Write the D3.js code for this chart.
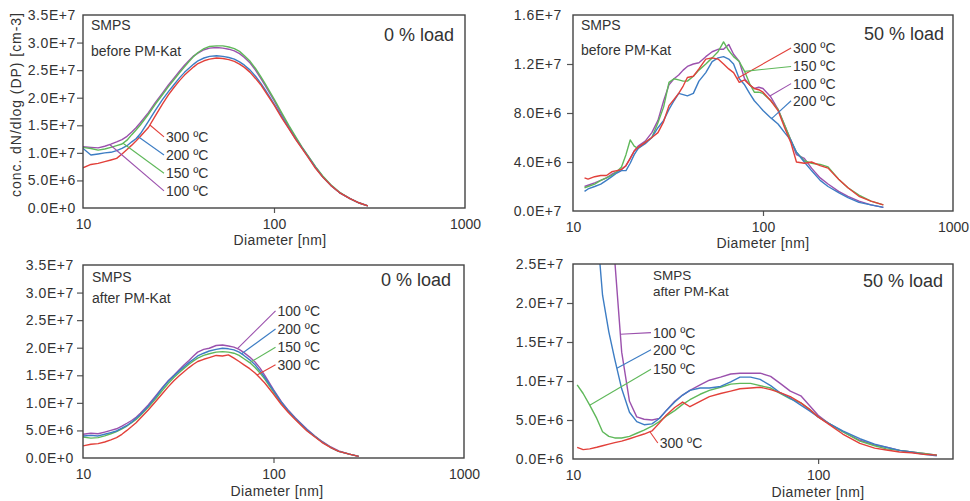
<!DOCTYPE html>
<html><head><meta charset="utf-8">
<script src="https://cdn.jsdelivr.net/npm/d3@7"></script>
<style>
body{margin:0;background:#fff;}
svg{display:block;font-family:"Liberation Sans",Arial,Helvetica,sans-serif;}
</style></head><body>
<svg id="chart" width="970" height="501"></svg>
<script>
// ---------- DATA (concentrations in units of 1E+6 cm-3) ----------
const seriesKeys = ["100", "150", "200", "300"];
const seriesLabels = {"100": "100 ºC", "150": "150 ºC", "200": "200 ºC", "300": "300 ºC"};

// Panel 1: before PM-Kat, 0 % load
const tlD   = [10,11,12,13,14,15,16,17,18,19,20,22,24,26,28,30,32,34,36,38,40,43,46,50,54,58,62,66,70,75,80,85,90,100,110,120,130,140,150,165,180,200,220,250,280,310];
const tl100 = [11.1,11.0,10.9,11.2,11.6,12.0,12.4,13.0,13.8,14.6,15.5,17.3,19.2,20.8,22.3,23.6,24.8,25.9,26.8,27.6,28.1,28.7,29.0,29.1,29.0,28.8,28.5,28.0,27.3,26.3,25.0,23.6,22.2,19.5,16.9,14.7,12.7,11.0,9.5,7.4,5.7,4.0,2.8,1.7,0.9,0.4];
const tl150 = [11.0,10.8,10.5,10.7,11.0,11.3,11.6,12.3,13.3,14.2,15.1,17.0,18.9,20.5,22.0,23.3,24.5,25.6,26.6,27.5,28.2,28.9,29.3,29.4,29.4,29.2,28.9,28.4,27.6,26.6,25.3,23.9,22.5,19.8,17.2,14.9,12.9,11.1,9.6,7.5,5.8,4.1,2.9,1.7,0.9,0.4];
const tl200 = [10.8,9.6,9.8,10.0,10.1,10.4,10.8,11.3,12.0,12.6,13.5,15.7,17.8,19.6,21.1,22.4,23.6,24.6,25.4,26.1,26.7,27.2,27.5,27.6,27.5,27.3,27.0,26.5,25.9,25.0,23.9,22.7,21.4,18.9,16.5,14.4,12.5,10.9,9.4,7.3,5.6,4.0,2.8,1.7,0.9,0.4];
const tl300 = [7.3,7.9,8.1,8.4,8.7,9.0,9.8,10.6,11.4,12.2,13.0,14.6,16.8,18.8,20.5,21.9,23.1,24.1,24.9,25.6,26.2,26.7,27.0,27.2,27.1,26.9,26.6,26.1,25.5,24.6,23.5,22.4,21.1,18.7,16.3,14.3,12.4,10.8,9.3,7.2,5.6,4.0,2.8,1.7,0.9,0.4];

// Panel 2: before PM-Kat, 50 % load
const trD   = [11.5,12,13,14,15,16,17,18,19,20,21,22,24,26,28,30,32,34,36,38,40,43,46,50,54,58,62,66,70,75,80,85,90,95,100,110,120,130,140,150,165,180,200,220,250,280,320,370,430];
const tr100 = [2.0,2.1,2.3,2.5,2.7,3.0,3.2,3.4,3.7,4.3,4.9,5.3,5.7,6.4,7.4,9.0,10.3,10.8,11.1,11.5,11.8,12.0,12.1,12.6,13.0,13.2,13.2,13.6,12.8,12.2,10.8,10.3,10.0,10.1,10.0,9.3,8.3,7.0,5.8,4.6,4.3,3.5,2.7,2.2,1.6,1.2,0.8,0.5,0.3];
const tr150 = [1.9,2.0,2.2,2.5,2.7,2.9,3.2,3.6,4.6,5.8,5.3,5.1,5.6,6.0,7.2,8.5,10.5,10.8,10.7,10.6,10.6,11.0,11.5,12.0,12.5,13.0,13.8,13.1,12.6,12.2,11.4,10.4,9.7,9.7,9.6,9.0,8.3,7.0,5.8,4.8,4.1,3.9,3.8,3.6,2.6,1.9,1.3,0.8,0.5];
const tr200 = [1.6,1.8,2.0,2.2,2.5,2.8,3.1,3.3,3.3,3.9,4.6,5.1,5.5,6.0,6.8,7.4,8.3,9.0,9.6,9.5,9.4,9.6,10.6,11.3,12.2,12.5,12.6,12.4,12.0,10.8,10.3,9.6,9.0,8.6,8.2,7.6,7.1,6.4,5.8,4.8,4.0,3.3,2.5,2.0,1.5,1.1,0.7,0.5,0.3];
const tr300 = [2.7,2.6,2.8,2.9,2.9,3.2,3.3,3.4,3.7,4.3,4.9,5.2,5.6,6.0,6.4,7.3,8.6,9.1,9.6,10.2,10.9,11.0,11.6,12.4,12.5,12.4,12.0,11.6,11.3,10.5,10.7,10.3,10.0,9.9,9.7,9.0,8.2,6.8,5.6,4.0,3.9,4.0,3.7,3.5,2.6,1.9,1.2,0.8,0.5];

// Panel 3: after PM-Kat, 0 % load
const blD   = [10,11,12,13,14,15,16,17,18,19,20,22,24,26,28,30,32,34,36,38,40,43,46,50,54,58,62,66,70,75,80,85,90,100,110,120,130,140,150,165,180,200,220,250,280];
const bl100 = [4.3,4.5,4.4,4.7,5.0,5.3,5.8,6.3,6.8,7.4,8.1,9.6,11.2,12.7,14.0,15.0,16.0,16.9,17.7,18.5,19.2,19.7,19.9,20.4,20.5,20.3,20.1,19.7,19.1,18.3,17.4,16.3,15.0,12.4,10.2,8.6,7.3,6.2,5.2,4.0,3.0,2.0,1.3,0.7,0.3];
const bl150 = [3.8,3.6,3.7,4.0,4.4,4.8,5.3,5.8,6.4,7.0,7.7,9.2,10.7,12.2,13.5,14.6,15.5,16.3,17.0,17.6,18.1,18.6,18.9,19.2,19.3,19.2,19.0,18.6,18.0,17.3,16.4,15.4,14.3,12.0,10.0,8.4,7.1,6.0,5.0,3.9,2.9,1.9,1.2,0.7,0.3];
const bl200 = [4.0,4.1,4.0,4.3,4.6,4.9,5.4,5.9,6.5,7.2,7.9,9.4,11.0,12.6,13.9,14.9,15.8,16.6,17.3,17.9,18.5,19.0,19.4,19.7,19.9,19.8,19.6,19.2,18.6,17.8,16.9,15.8,14.6,12.2,10.1,8.5,7.2,6.1,5.1,3.9,2.9,1.9,1.2,0.7,0.3];
const bl300 = [2.2,2.5,2.6,2.9,3.3,3.7,4.3,5.0,5.7,6.4,7.2,8.7,10.2,11.6,12.9,14.0,14.9,15.7,16.4,17.0,17.5,17.9,18.2,18.6,18.5,18.7,18.1,17.5,16.9,16.2,15.4,14.5,13.6,11.6,9.7,8.2,7.0,5.9,4.9,3.8,2.8,1.9,1.2,0.7,0.3];

// Panel 4: after PM-Kat, 50 % load
const brD   = [10.4,11,11.7,12.5,13.2,14,14.8,15.8,17,18.2,19.5,21,22.5,24,26,28,30,33,36,40,44,48,53,58,64,70,77,85,92,100,110,126,148,170,190,215,240,270,305];
const br100 = [null,null,null,null,null,35,25.5,13.7,7.4,5.4,5.1,5.0,5.2,6.2,7.4,8.2,8.8,9.5,10.1,10.5,10.9,11.0,11.0,11.0,10.6,9.7,8.7,8.1,6.9,5.6,4.6,3.5,2.4,1.8,1.5,1.1,0.9,0.7,0.5];
const br150 = [9.5,8.4,6.9,5.2,3.5,2.9,2.7,2.7,2.9,3.3,3.7,4.2,4.8,5.5,6.2,7.0,7.6,8.3,8.8,9.2,9.6,9.7,9.7,9.4,9.1,8.4,7.7,7.2,6.4,5.4,4.6,3.5,2.3,1.7,1.3,1.1,0.9,0.7,0.5];
const br200 = [null,null,null,30,21,16.3,12.8,9.0,6.0,4.8,4.4,4.5,5.2,6.2,7.3,8.2,8.8,9.1,9.1,9.3,9.9,10.5,10.5,10.2,9.4,8.5,7.8,6.9,6.2,5.4,4.6,3.6,2.6,1.9,1.5,1.1,0.9,0.6,0.4];
const br300 = [1.5,1.2,1.3,1.5,1.7,1.9,2.1,2.3,2.6,2.9,3.2,3.6,4.6,5.6,6.6,7.3,6.7,7.4,8.0,8.4,8.7,9.0,9.1,9.2,8.9,8.5,8.0,7.2,6.4,5.4,4.5,3.2,2.0,1.4,1.15,0.9,0.8,0.6,0.5];

// Axis ticks
const leftYTicks  = [0,5,10,15,20,25,30,35];
const leftYLabels = ["0.0E+0","5.0E+6","1.0E+7","1.5E+7","2.0E+7","2.5E+7","3.0E+7","3.5E+7"];
const trYTicks    = [0,4,8,12,16];
const trYLabels   = ["0.0E+7","4.0E+6","8.0E+6","1.2E+7","1.6E+7"];
const brYTicks    = [0,5,10,15,20,25];
const brYLabels   = ["0.0E+6","5.0E+6","1.0E+7","1.5E+7","2.0E+7","2.5E+7"];
const xTicksFull  = [10,100,1000];
const xLabelsFull = ["10","100","1000"];
const xTicksShort = [10,100];
const xLabelsShort= ["10","100"];

// Labels with leader lines: series, anchor diameter on curve, label diameter / value
const tlAnn = [{s:"300",at:22.4,ld:27.2,lv:12.9},{s:"200",at:19.4,ld:27.2,lv:9.6},{s:"150",at:16.2,ld:27.2,lv:6.3},{s:"100",at:13.8,ld:27.2,lv:3.1}];
const trAnn = [{s:"300",at:73,ld:144,lv:13.3},{s:"150",at:80,ld:144,lv:11.8},{s:"100",at:108.7,ld:144,lv:10.4},{s:"200",at:111,ld:144,lv:9.0}];
const blAnn = [{s:"100",at:64.7,ld:105,lv:26.7},{s:"200",at:68,ld:105,lv:23.4},{s:"150",at:75,ld:105,lv:20.1},{s:"300",at:82,ld:105,lv:16.9}];
const brAnn = [{s:"100",at:15.6,ld:21.2,lv:16.2},{s:"200",at:15.1,ld:21.2,lv:14.0},{s:"150",at:11.7,ld:21.2,lv:11.5},{s:"300",at:20.6,ld:22.6,lv:2.05}];

// ---------- STYLE / LAYOUT ----------
const colors = {"100":"#9b51ad","150":"#5fb85a","200":"#3d7dc4","300":"#e2403a"};
const textColor = "#333";

const panels = [
  {D:tlD, S:{"100":tl100,"150":tl150,"200":tl200,"300":tl300}, ann:tlAnn,
   l:83,r:465,t:15,b:208, xDom:[10,1000], yDom:[0,35], yT:leftYTicks, yL:leftYLabels, xT:xTicksFull, xL:xLabelsFull, pad:1,
   line1:"SMPS", line2:"before PM-Kat", p1:[91,30], p2:[91,56], fs:14, load:"0 % load", pl:[454,41], title:[280,245]},
  {D:trD, S:{"100":tr100,"150":tr150,"200":tr200,"300":tr300}, ann:trAnn,
   l:573,r:953,t:15,b:211, xDom:[10,1000], yDom:[0,16], yT:trYTicks, yL:trYLabels, xT:xTicksFull, xL:xLabelsFull, pad:5,
   line1:"SMPS", line2:"before PM-Kat", p1:[581,30], p2:[581,55], fs:14, load:"50 % load", pl:[944,40], title:[763,248]},
  {D:blD, S:{"100":bl100,"150":bl150,"200":bl200,"300":bl300}, ann:blAnn,
   l:83,r:464,t:265,b:458, xDom:[10,1000], yDom:[0,35], yT:leftYTicks, yL:leftYLabels, xT:xTicksFull, xL:xLabelsFull, pad:3,
   line1:"SMPS", line2:"after PM-Kat", p1:[92,282], p2:[92,303], fs:14, load:"0 % load", pl:[451,286], title:[277,496]},
  {D:brD, S:{"100":br100,"150":br150,"200":br200,"300":br300}, ann:brAnn,
   l:573,r:953,t:264,b:459, xDom:[10,355], yDom:[0,25], yT:brYTicks, yL:brYLabels, xT:xTicksShort, xL:xLabelsShort, pad:3,
   line1:"SMPS", line2:"after PM-Kat", p1:[653,280], p2:[653,296], fs:13.5, load:"50 % load", pl:[943,287], title:[818,497]}
];

const svg = d3.select("#chart");
svg.append("rect").attr("width",970).attr("height",501).attr("fill","#fff");

function interp(D, V, at){
  for(let i=0;i<D.length-1;i++){
    if(D[i] <= at && at <= D[i+1] && V[i]!=null && V[i+1]!=null){
      const f = Math.log(at/D[i]) / Math.log(D[i+1]/D[i]);
      return V[i] + f*(V[i+1]-V[i]);
    }
  }
  return null;
}

panels.forEach((p, pi) => {
  const x = d3.scaleLog().domain(p.xDom).range([p.l, p.r]);
  const y = d3.scaleLinear().domain(p.yDom).range([p.b, p.t]);
  const g = svg.append("g");

  const clipId = "clip" + pi;
  g.append("clipPath").attr("id", clipId).append("rect")
    .attr("x", p.l).attr("y", p.t).attr("width", p.r - p.l).attr("height", p.b - p.t);

  // Y axis
  const yAxis = d3.axisLeft(y).tickValues(p.yT).tickFormat((d,i) => p.yL[i]).tickSize(6).tickSizeOuter(0).tickPadding(p.pad);
  const ya = g.append("g").attr("transform", `translate(${p.l},0)`).call(yAxis);
  ya.select(".domain").remove();
  ya.selectAll(".tick line").attr("stroke", "#555").attr("stroke-width", 1.2)
    .attr("opacity", d => (d === p.yDom[0] || d === p.yDom[1]) ? 0 : 1);
  ya.selectAll(".tick text").attr("fill", textColor).style("font-size", "14px").style("letter-spacing", "0.6px")
    .style("font-family", '"Liberation Sans", Arial, sans-serif');

  // X axis
  const xAxis = d3.axisBottom(x).tickValues(p.xT).tickFormat((d,i) => p.xL[i]).tickSize(5).tickSizeOuter(0).tickPadding(6);
  const xa = g.append("g").attr("transform", `translate(0,${p.b})`).call(xAxis);
  xa.select(".domain").remove();
  xa.selectAll(".tick line").attr("stroke", "#555").attr("stroke-width", 1.2)
    .attr("opacity", d => (d === p.xDom[0] || d === p.xDom[1]) ? 0 : 1);
  xa.selectAll(".tick text").attr("fill", textColor).style("font-size", "14px")
    .style("font-family", '"Liberation Sans", Arial, sans-serif');

  // Curves
  const line = d3.line().defined(d => d.v != null).x(d => x(d.d)).y(d => y(d.v));
  const lines = g.append("g").attr("clip-path", `url(#${clipId})`);
  seriesKeys.forEach(k => {
    const pts = p.D.map((d, i) => ({d: d, v: p.S[k][i]}));
    lines.append("path").datum(pts).attr("d", line)
      .attr("fill", "none").attr("stroke", colors[k]).attr("stroke-width", 1.4)
      .attr("stroke-linejoin", "round");
  });

  // Frame
  g.append("rect").attr("x", p.l).attr("y", p.t).attr("width", p.r - p.l).attr("height", p.b - p.t)
    .attr("fill", "none").attr("stroke", "#444").attr("stroke-width", 1.4);

  // Leader lines and labels
  p.ann.forEach(a => {
    const av = interp(p.D, p.S[a.s], a.at);
    const ax = x(a.at), ay = y(av);
    const lx = x(a.ld), ly = y(a.lv);
    g.append("line").attr("x1", ax).attr("y1", ay).attr("x2", lx - 2).attr("y2", ly)
      .attr("stroke", colors[a.s]).attr("stroke-width", 1.1);
    g.append("text").attr("x", lx).attr("y", ly).attr("dy", "0.36em")
      .attr("fill", textColor).style("font-size", "14px").text(seriesLabels[a.s]);
  });

  // Panel text
  g.append("text").attr("x", p.p1[0]).attr("y", p.p1[1]).attr("fill", textColor).style("font-size", p.fs + "px").text(p.line1);
  g.append("text").attr("x", p.p2[0]).attr("y", p.p2[1]).attr("fill", textColor).style("font-size", p.fs + "px").text(p.line2);
  g.append("text").attr("x", p.pl[0]).attr("y", p.pl[1]).attr("text-anchor", "end")
    .attr("fill", textColor).style("font-size", "18px").text(p.load);
  g.append("text").attr("x", p.title[0]).attr("y", p.title[1]).attr("text-anchor", "middle")
    .attr("fill", textColor).style("font-size", "14px").style("letter-spacing", "0.4px").text("Diameter [nm]");
});

// Y axis title (first panel)
svg.append("text").attr("transform", "translate(21,105) rotate(-90)").attr("text-anchor", "middle")
  .attr("fill", textColor).style("font-size", "14px").attr("textLength", 184).attr("lengthAdjust", "spacing")
  .text("conc. dN/dlog (DP) [cm-3]");
</script>
</body></html>
